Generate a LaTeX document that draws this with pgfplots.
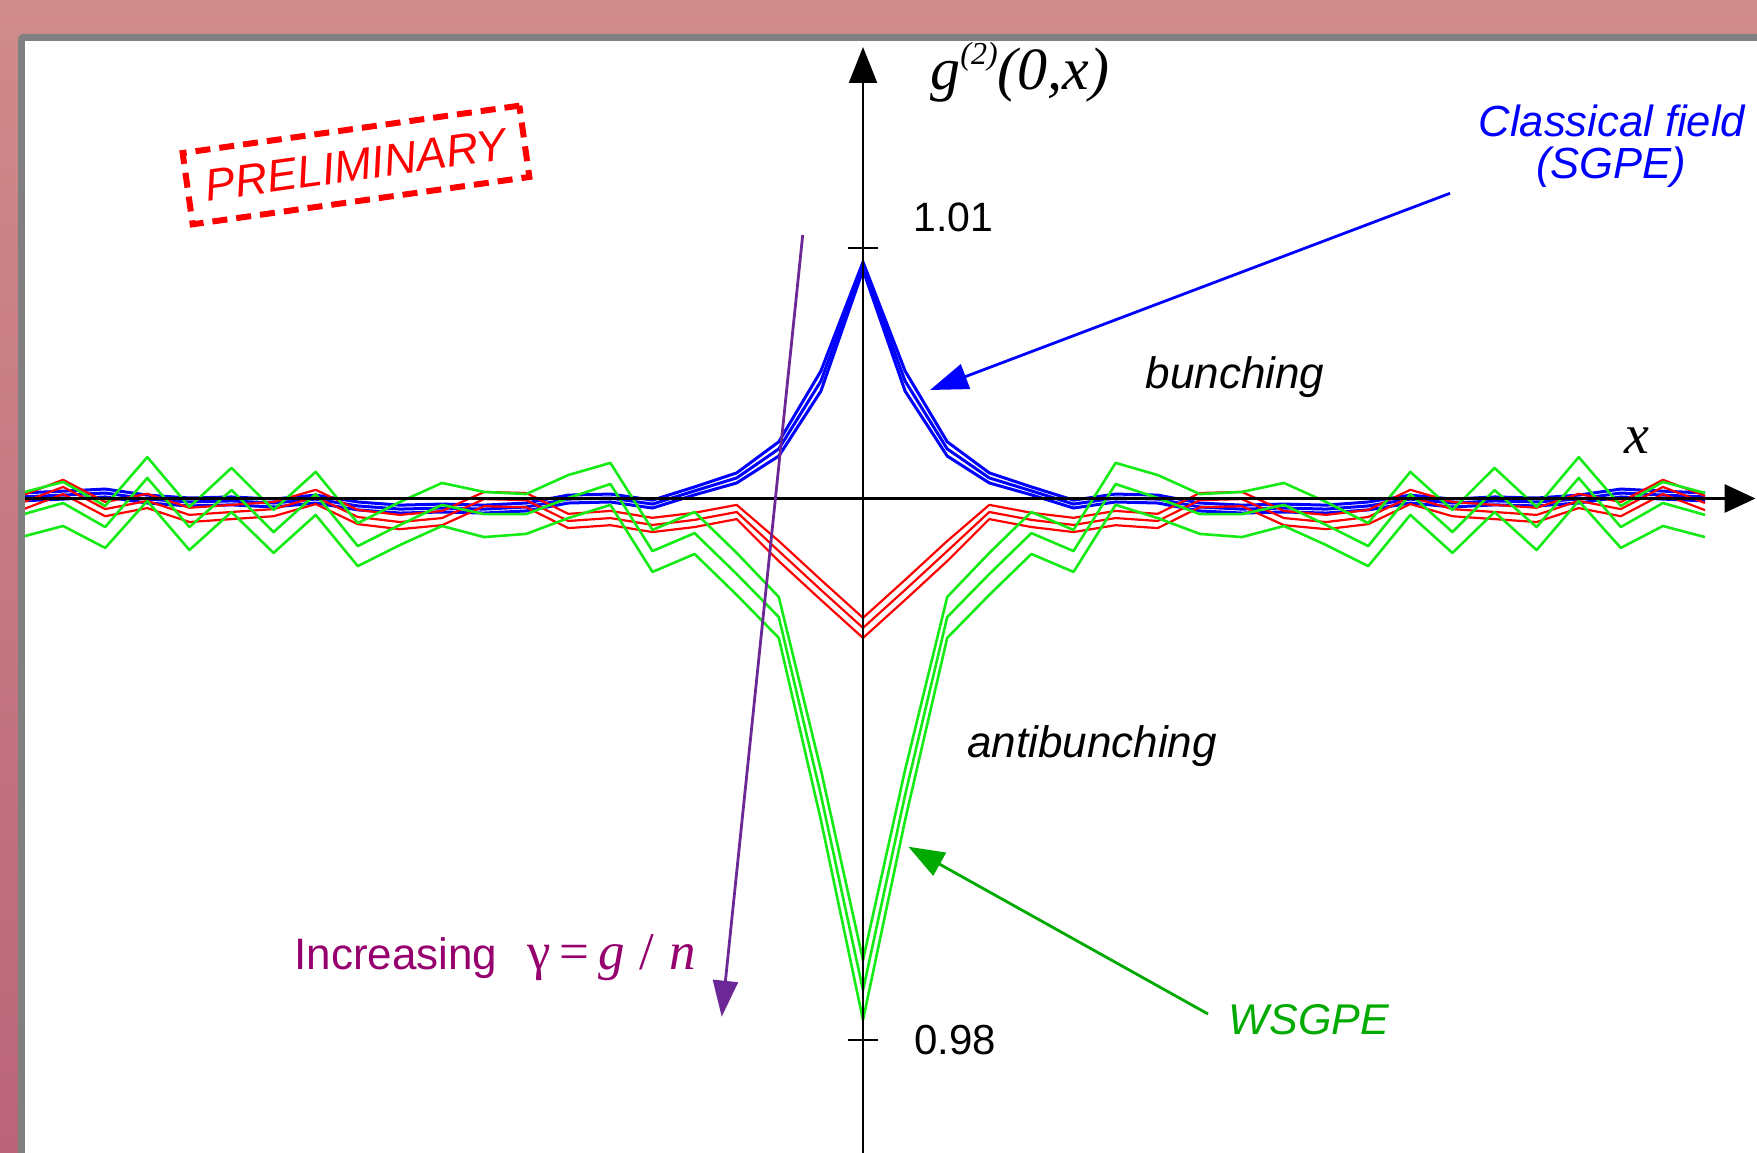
\documentclass[border=0pt]{standalone}
\usepackage{fontspec}
\setmainfont{Liberation Serif}
\setsansfont{Liberation Sans}
\usepackage{pgfplots}
\pgfplotsset{compat=1.18}
\usepackage{pgfplotstable}
\usetikzlibrary{arrows.meta}

\definecolor{bgtop}{RGB}{208,139,139}
\definecolor{bgbot}{RGB}{186,100,122}
\definecolor{frame}{RGB}{128,128,128}
\definecolor{cblue}{RGB}{0,0,255}
\definecolor{cred}{RGB}{255,0,0}
\definecolor{cgreen}{RGB}{20,235,20}
\definecolor{agreen}{RGB}{0,170,0}
\definecolor{apurple}{RGB}{108,40,150}
\definecolor{tpurple}{RGB}{150,0,110}
\newcommand\sz[1]{\fontsize{#1}{#1}\selectfont}

\pgfplotstableread{
x a b c
-20 1.00072 1.00057 1.00042
-19 1.00079 1.00064 1.00049
-18 1.00087 1.00072 1.00057
-17 1.00064 1.00049 1.00034
-16 1.00053 1.00038 1.00023
-15 1.00057 1.00042 1.00027
-14 1.00049 1.00034 1.00019
-13 1.00064 1.00049 1.00034
-12 1.00038 1.00023 1.00008
-11 1.00026 1.00011 0.99996
-10 1.00030 1.00015 1.00000
-9 1.00026 1.00011 0.99996
-8 1.00034 1.00019 1.00004
-7 1.00064 1.00049 1.00034
-6 1.00068 1.00053 1.00038
-5 1.00045 1.00030 1.00015
-4 1.00095 1.00080 1.00065
-3 1.00148 1.00129 1.00110
-2 1.00266 1.00239 1.00212
-1 1.00534 1.00496 1.00458
0 1.00947 1.00932 1.00917
1 1.00534 1.00496 1.00458
2 1.00266 1.00239 1.00212
3 1.00148 1.00129 1.00110
4 1.00095 1.00080 1.00065
5 1.00045 1.00030 1.00015
6 1.00068 1.00053 1.00038
7 1.00064 1.00049 1.00034
8 1.00034 1.00019 1.00004
9 1.00026 1.00011 0.99996
10 1.00030 1.00015 1.00000
11 1.00026 1.00011 0.99996
12 1.00038 1.00023 1.00008
13 1.00064 1.00049 1.00034
14 1.00049 1.00034 1.00019
15 1.00057 1.00042 1.00027
16 1.00053 1.00038 1.00023
17 1.00064 1.00049 1.00034
18 1.00087 1.00072 1.00057
19 1.00079 1.00064 1.00049
20 1.00072 1.00057 1.00042
}\blueT

\pgfplotstableread{
x a b c
-20 1.00061 1.00034 1.00007
-19 1.00122 1.00095 1.00068
-18 1.00038 1.00011 0.99984
-17 1.00069 1.00042 1.00015
-16 1.00016 0.99989 0.99962
-15 1.00027 1.00000 0.99973
-14 1.00038 1.00011 0.99984
-13 1.00084 1.00057 1.00030
-12 1.00008 0.99981 0.99954
-11 0.99989 0.99962 0.99935
-10 1.00004 0.99977 0.99950
-9 1.00076 1.00049 1.00022
-8 1.00072 1.00045 1.00018
-7 0.99993 0.99966 0.99939
-6 1.00004 0.99977 0.99950
-5 0.99978 0.99951 0.99924
-4 0.99997 0.99970 0.99943
-3 1.00027 1.00000 0.99973
-2 0.99890 0.99852 0.99814
-1 0.99743 0.99705 0.99667
0 0.99599 0.99561 0.99523
1 0.99743 0.99705 0.99667
2 0.99890 0.99852 0.99814
3 1.00027 1.00000 0.99973
4 0.99997 0.99970 0.99943
5 0.99978 0.99951 0.99924
6 1.00004 0.99977 0.99950
7 0.99993 0.99966 0.99939
8 1.00072 1.00045 1.00018
9 1.00076 1.00049 1.00022
10 1.00004 0.99977 0.99950
11 0.99989 0.99962 0.99935
12 1.00008 0.99981 0.99954
13 1.00084 1.00057 1.00030
14 1.00038 1.00011 0.99984
15 1.00027 1.00000 0.99973
16 1.00016 0.99989 0.99962
17 1.00069 1.00042 1.00015
18 1.00038 1.00011 0.99984
19 1.00122 1.00095 1.00068
20 1.00061 1.00034 1.00007
}\redT

\pgfplotstableread{
x a b c
-20 1.00072 0.99989 0.99905
-19 1.00114 1.00034 0.99947
-18 1.00023 0.99943 0.99864
-17 1.00208 1.00129 1.00042
-16 1.00019 0.99943 0.99856
-15 1.00167 1.00083 1.00000
-14 1.00008 0.99924 0.99845
-13 1.00152 1.00068 0.99989
-12 0.99958 0.99871 0.99795
-11 1.00038 0.99951 0.99875
-10 1.00110 1.00027 0.99947
-9 1.00076 0.99992 0.99905
-8 1.00068 0.99992 0.99917
-7 1.00140 1.00053 0.99977
-6 1.00186 1.00106 1.00027
-5 0.99932 0.99852 0.99773
-4 1.00000 0.99920 0.99841
-3 0.99845 0.99765 0.99686
-2 0.99678 0.99602 0.99523
-1 0.99023 0.98928 0.98833
0 0.98303 0.98189 0.98076
1 0.99023 0.98928 0.98833
2 0.99678 0.99602 0.99523
3 0.99845 0.99765 0.99686
4 1.00000 0.99920 0.99841
5 0.99932 0.99852 0.99773
6 1.00186 1.00106 1.00027
7 1.00140 1.00053 0.99977
8 1.00068 0.99992 0.99917
9 1.00076 0.99992 0.99905
10 1.00110 1.00027 0.99947
11 1.00038 0.99951 0.99875
12 0.99958 0.99871 0.99795
13 1.00152 1.00068 0.99989
14 1.00008 0.99924 0.99845
15 1.00167 1.00083 1.00000
16 1.00019 0.99943 0.99856
17 1.00208 1.00129 1.00042
18 1.00023 0.99943 0.99864
19 1.00114 1.00034 0.99947
20 1.00072 0.99989 0.99905
}\greenT

\begin{document}
\begin{tikzpicture}
\useasboundingbox (0,0) rectangle (878.5pt,576pt);
\clip (0,0) rectangle (878.5pt,576pt);
\begin{axis}[
  at={(0,0)}, anchor=south west,
  width=878.5pt, height=576pt, scale only axis,
  xmin=-20.4988, xmax=21.2352, ymin=0.975758, ymax=1.019394,
  hide axis, clip=true,
]
% slide background and panel
\fill[top color=bgtop, bottom color=bgbot] (rel axis cs:0,0) rectangle (rel axis cs:1,1);
\fill[frame, rounded corners=3pt] (rel axis cs:0.01024,-0.1) rectangle (rel axis cs:1.1,0.97049);
\fill[white] (rel axis cs:0.01394,-0.1) rectangle (rel axis cs:1.1,0.96441);

% curves
\foreach \col in {a,b,c}{
  \addplot[cblue, line width=1.5pt, line join=round] table[x=x, y=\col] {\blueT};
}
\foreach \col in {a,b,c}{
  \addplot[cred, line width=1.1pt, line join=round] table[x=x, y=\col] {\redT};
}
\foreach \col in {a,b,c}{
  \addplot[cgreen, line width=1.3pt, line join=round] table[x=x, y=\col] {\greenT};
}

% left border redrawn over the curve ends
\fill[top color=bgtop, bottom color=bgbot] (rel axis cs:0,0) rectangle (rel axis cs:0.01024,1);
\fill[frame] (rel axis cs:0.01024,0) rectangle (rel axis cs:0.01394,0.9660);

% axes
\draw[black, line width=1.5pt, -{Triangle[length=15.5pt,width=14pt]}] (axis cs:-19.90,1.000511) -- (axis cs:21.2,1.000511);
\draw[black, line width=1.2pt, -{Triangle[length=18pt,width=14pt]}] (axis cs:0,0.97) -- (axis cs:0,1.017614);
\draw[black, line width=1.2pt] (axis cs:-0.356,1.01) -- (axis cs:0.356,1.01);
\draw[black, line width=1.2pt] (axis cs:-0.356,0.98) -- (axis cs:0.356,0.98);
\node[font=\sffamily\sz{20.5}] at (axis cs:2.14,1.01117) {1.01};
\node[font=\sffamily\sz{21}] at (axis cs:2.185,0.98) {0.98};
\node[anchor=base west, inner sep=0pt, font=\rmfamily\itshape\sz{30}] at (axis cs:1.591,1.015985) {g\raisebox{0.42em}{\sz{16}(2)}(0,x)};
\node[font=\rmfamily\itshape\sz{28}] at (axis cs:18.385,1.002689) {x};

% annotations
\node[font=\sffamily\itshape\sz{22}] at (axis cs:8.836,1.005095) {bunching};
\node[font=\sffamily\itshape\sz{22}] at (axis cs:5.44,0.991118) {antibunching};
\node[anchor=base, text=cblue, font=\sffamily\itshape\sz{21.8}] at (axis cs:17.79,1.014242) {Classical field};
\node[anchor=base, text=cblue, font=\sffamily\itshape\sz{21.8}] at (axis cs:17.77,1.012614) {(SGPE)};
\node[text=agreen, font=\sffamily\itshape\sz{21.5}] at (axis cs:10.594,0.980758) {WSGPE};
\node[anchor=base west, inner sep=0pt, text=tpurple, font=\sffamily\sz{22}] at (axis cs:-13.515,0.982652) {Increasing};
\node[anchor=base west, inner sep=0pt, text=tpurple, font=\rmfamily\sz{26.5}] at (axis cs:-7.981,0.982652) {γ\,=\,\textit{g}\;/\;\textit{n}};
\node[draw=red, line width=3pt, dash pattern=on 7.5pt off 4.5pt, rotate=8,
      minimum width=170pt, minimum height=36pt, inner sep=0pt,
      text=red, font=\sffamily\itshape\sz{22.5}] at (axis cs:-12.043,1.013144) {PRELIMINARY};

% arrows
\draw[apurple, line width=1.4pt, -{Triangle[length=18pt,width=12.5pt]}] (axis cs:-1.432,1.010492) -- (axis cs:-3.356,0.980883);
\draw[cblue, line width=1.4pt, -{Triangle[length=19pt,width=13pt]}] (axis cs:13.943,1.012072) -- (axis cs:1.591,1.004621);
\draw[agreen, line width=1.4pt, -{Triangle[length=18pt,width=13pt]}] (axis cs:8.195,0.980985) -- (axis cs:1.076,0.987322);
\end{axis}
\end{tikzpicture}
\end{document}
